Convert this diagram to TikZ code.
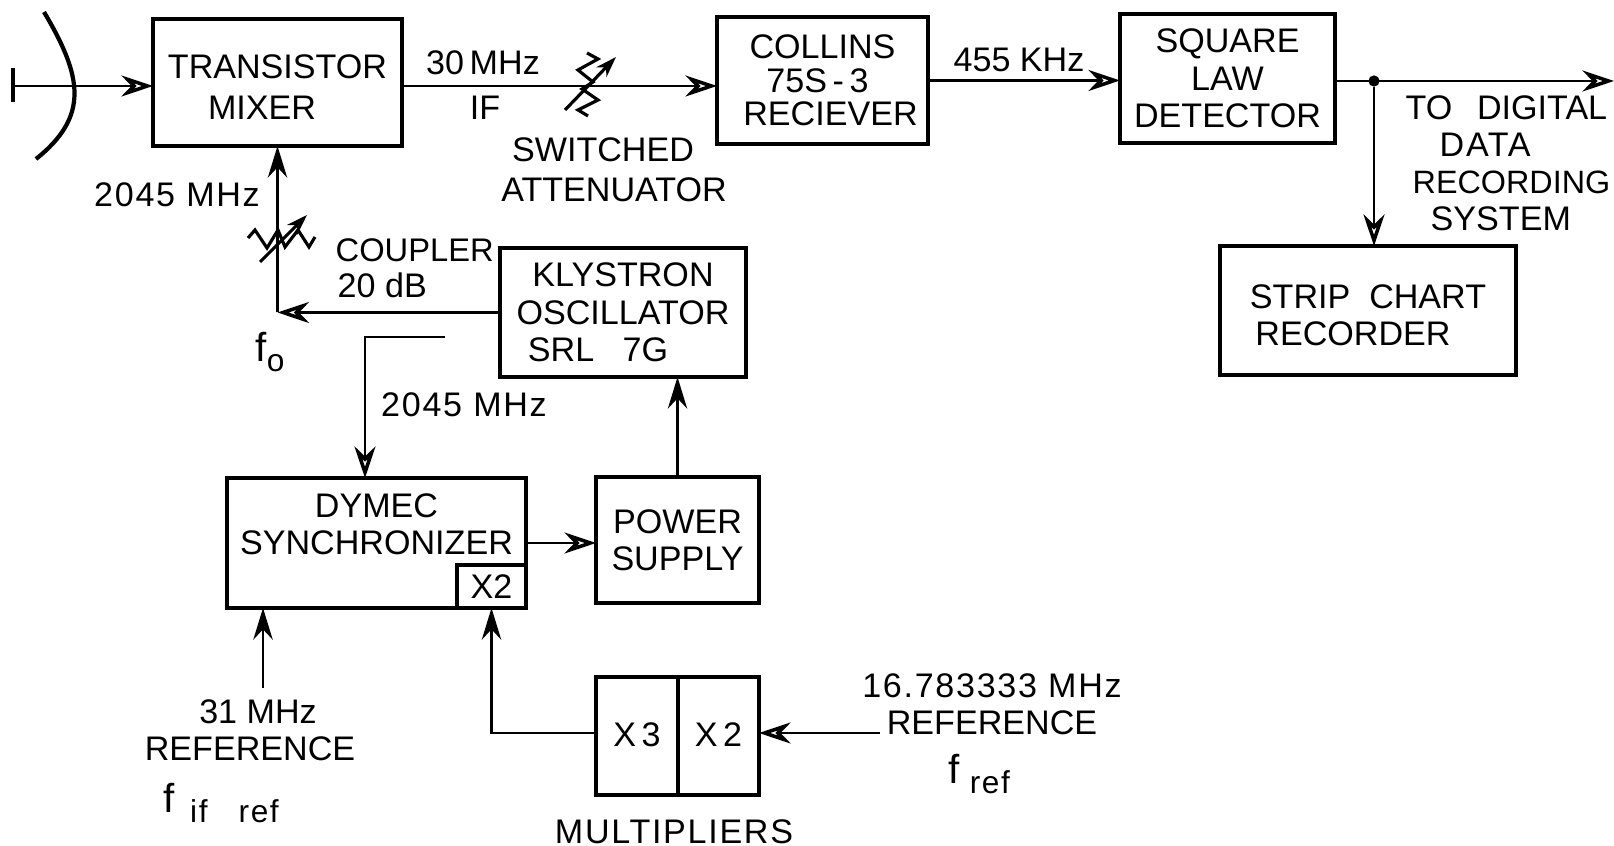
\documentclass[tikz,border=0pt]{standalone}
\usepackage{fontspec}
\setmainfont{Liberation Sans}
\newfontfamily\wide[LetterSpace=5]{Liberation Sans}
\usepackage{tikz}
\usetikzlibrary{arrows.meta}

\begin{document}
\begin{tikzpicture}[
  bx/.style={draw,line width=1.2pt,inner sep=0pt,outer sep=0pt,align=center,
             font=\fontsize{9.7}{10.6}\selectfont},
  lbl/.style={inner sep=0pt,align=center,font=\fontsize{9.7}{10.6}\selectfont},
  lblw/.style={lbl,font=\fontsize{9.7}{10.6}\selectfont\wide},
  lblf/.style={lbl,font=\fontsize{11.5}{13}\selectfont},
  arr/.style={-{Stealth[open,length=9pt,width=6pt,line width=1pt]},line width=0.75pt},
  arrs/.style={-{Stealth[length=9pt,width=5.5pt]},line width=0.75pt},
  arrt/.style={-{Stealth[length=6pt,width=4pt]},line width=0.9pt},
  sym/.style={line width=0.9pt,line join=miter}]
\useasboundingbox (0,0) rectangle (16.14,8.46);
\node[bx,minimum width=2.49cm,minimum height=1.27cm] (mixer) at (2.775,7.635) {\rule{0pt}{9.5pt}TRANSISTOR\\[1pt]MIXER\hspace{0.31cm}\mbox{}};
\node[bx,minimum width=2.11cm,minimum height=1.27cm] (collins) at (8.225,7.655) {COLLINS\\[-1pt]75S\,-\,3\hspace{0.1cm}\mbox{}\\[-1pt]\mbox{}\hspace{0.16cm}RECIEVER};
\node[bx,minimum width=2.15cm,minimum height=1.29cm] (square) at (12.275,7.675) {SQUARE\\LAW\\DETECTOR};
\node[bx,minimum width=2.96cm,minimum height=1.29cm] (strip) at (13.68,5.355) {\rule{0pt}{9.5pt}STRIP\ \ CHART\\RECORDER\hspace{0.3cm}\mbox{}};
\node[bx,minimum width=2.46cm,minimum height=1.29cm] (klystron) at (6.23,5.335) {KLYSTRON\\OSCILLATOR\\SRL\ \ \ 7G\hspace{0.5cm}\mbox{}};
\node[bx,minimum width=2.99cm,minimum height=1.30cm] (dymec) at (3.765,3.03) {DYMEC\\SYNCHRONIZER\\\mbox{}};
\node[bx,minimum width=0.69cm,minimum height=0.43cm] (xtwoin) at (4.915,2.595) {X2};
\node[bx,minimum width=1.63cm,minimum height=1.26cm] (power) at (6.775,3.06) {POWER\\SUPPLY};
\node[bx,minimum width=0.82cm,minimum height=1.18cm] (xthree) at (6.37,1.10) {\raisebox{1pt}{X\,3}};
\node[bx,minimum width=0.81cm,minimum height=1.18cm] (xtwo) at (7.185,1.10) {\raisebox{1pt}{X\,2}};
\node[circle,fill,inner sep=0pt,minimum size=3.2pt] (jn) at (13.74,7.65) {};
% free ends
\coordinate (ant) at (0.13,7.60);
\coordinate (ifl) at (4.02,7.60);
\coordinate (att) at (5.84,7.60);
\coordinate (cpl) at (2.79,6.06);
\coordinate (lo) at (2.775,5.335);
\coordinate (outl) at (16.14,7.65);
\coordinate (tap) at (4.45,5.09);
\coordinate (bend) at (3.65,5.09);
\coordinate (ifref) at (2.63,1.58);
\coordinate (fref) at (8.80,1.13);
% antenna
\draw[line width=1.2pt] (0.13,7.78) -- (0.13,7.44);
\draw[line width=1.2pt] (0.44,8.34) .. controls (0.82,7.70) and (0.90,7.30) .. (0.36,6.87);
% connectors
\draw[arr] (ant) -- (ant -| mixer.west);
\draw[arr] (ifl -| mixer.east) -- (ifl -| collins.west);
\draw[arr] (collins.east) -- (collins.east -| square.west);
\draw[arr] (outl -| square.east) -- (outl);
\draw[arr] (jn) -- (jn |- strip.north);
\draw[arr] (klystron.west) -- (lo);
\draw[arrs] (lo) -- (mixer.south);
\draw[arr] (tap) -- (bend) -- (bend |- dymec.north);
\draw[arr] (dymec.east) -- (dymec.east -| power.west);
\draw[arrs] (power.north) -- (power.north |- klystron.south);
\draw[arrs] (ifref) -- (ifref |- dymec.south);
\draw[arrs] (fref -| xthree.west) -| (xtwoin.south);
\draw[arr] (fref) -- (fref -| xtwo.east);
% attenuator on the IF line
\begin{scope}[shift={(att)}]
\draw[sym] (0.03,0.33) -- (0.14,0.27) -- (-0.06,0.16) -- (0.09,0.04) -- (-0.02,-0.03) -- (0.14,-0.14) -- (-0.06,-0.24) -- (0.04,-0.30);
\draw[arrt] (-0.19,-0.24) -- (0.32,0.29);
\end{scope}
% coupler
\begin{scope}[shift={(cpl)}]
\draw[sym] (-0.31,0.02) -- (-0.24,0.10) -- (-0.12,-0.08) -- (-0.01,0.10) -- (0.06,-0.07) -- (0.19,0.10) -- (0.30,-0.07) -- (0.36,0.03);
\draw[arrt] (-0.19,-0.22) -- (0.28,0.25);
\end{scope}
% labels
\node[lbl] (lthirty) at (4.83,7.83) {30\,MHz};
\node[lbl] (lif) at (4.85,7.38) {IF};
\node[lbl] (lsw) at (6.03,6.96) {SWITCHED};
\node[lbl] (latt) at (6.14,6.56) {ATTENUATOR};
\node[lblw] (lpump) at (1.77,6.51) {2045 MHz};
\node[lbl,anchor=west,font=\fontsize{9.3}{10.6}\selectfont] (lcpl) at (3.35,5.96) {COUPLER};
\node[lbl,anchor=west] (ldb) at (3.37,5.61) {20 dB};
\node[lblf] (lfo) at (2.70,4.94) {f\raisebox{-3pt}{\fontsize{9}{9}\selectfont o}};
\node[lblw] (lmon) at (4.64,4.41) {2045 MHz};
\node[lbl] (lkhz) at (10.19,7.86) {455 KHz};
\node[lbl,align=left,font=\fontsize{9.7}{10.5}\selectfont] (ldig) at (15.08,6.83) {TO\ \ \,DIGITAL\\\hspace*{0.34cm}{\wide DATA}\\\hspace*{0.07cm}{\fontsize{9.2}{10.5}\selectfont RECORDING}\\\hspace*{0.25cm}SYSTEM};
\node[lbl] (lifref) at (2.50,1.155) {31 MHz\hspace{-0.16cm}\mbox{}\\REFERENCE};
\node[lblf,font=\fontsize{11.5}{13}\selectfont\wide] (lfif) at (2.21,0.43) {f\raisebox{-3pt}{\fontsize{9}{9}\selectfont\ \,if\ \ \ ref}};
\node[lblw] (lmul) at (6.74,0.14) {MULTIPLIERS};
\node[lbl] (lfreq) at (9.92,1.42) {{\wide 16.783333 MHz}\\REFERENCE};
\node[lblf,font=\fontsize{11.5}{13}\selectfont\wide] (lfr) at (9.79,0.72) {f\raisebox{-3pt}{\fontsize{9}{9}\selectfont\ ref}};
\end{tikzpicture}
\end{document}
